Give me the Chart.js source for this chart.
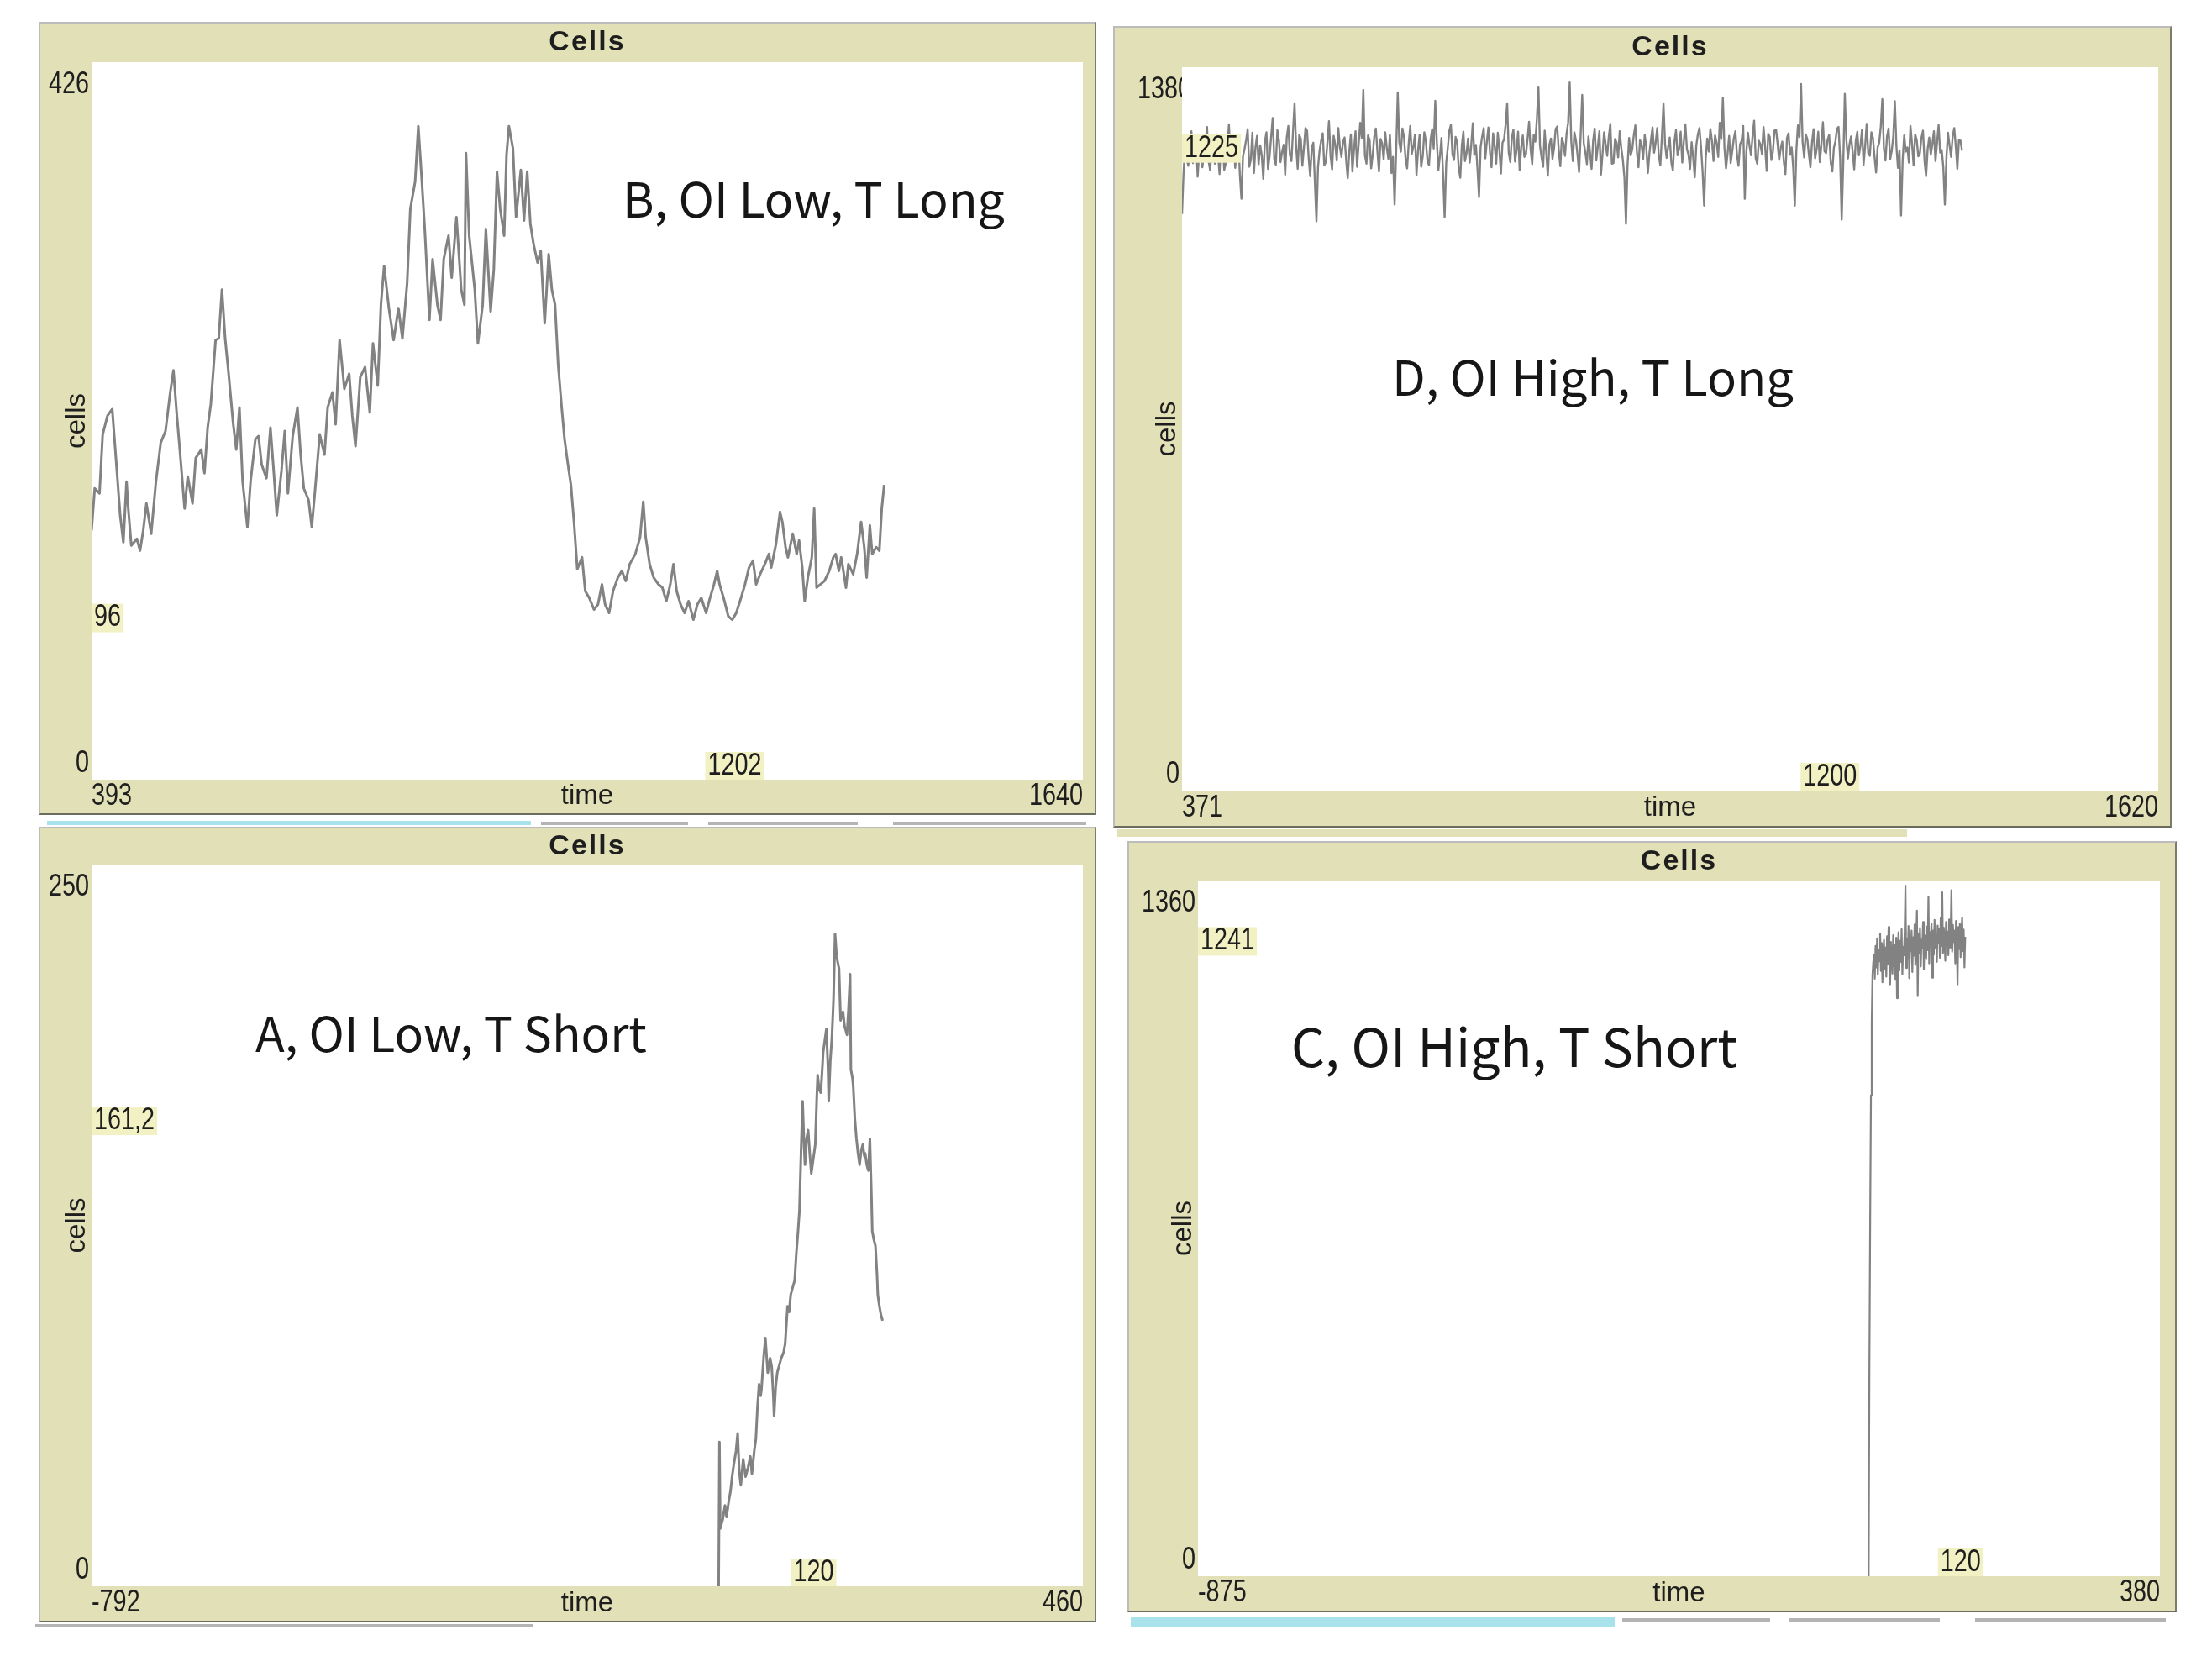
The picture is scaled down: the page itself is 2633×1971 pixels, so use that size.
<!DOCTYPE html>
<html>
<head>
<meta charset="utf-8">
<title>Cells</title>
<script src="https://cdn.jsdelivr.net/npm/chart.js@4.4.1/dist/chart.umd.min.js"></script>
<style>
  html, body { margin: 0; padding: 0; background: #fff; }
  body { width: 2633px; height: 1971px; position: relative; overflow: hidden; }
  .panel { position: absolute; border: 2px solid; border-color: #bcbcbc #7c7c6c #6c6c5e #bcbcbc; }
  .panel canvas { display: block; }
  .note { position: absolute; font-family: "Noto Sans CJK KR", "Noto Sans", sans-serif; font-weight: 400; font-size: 55px; color: #161616; white-space: nowrap; line-height: 1; }
  .strip { position: absolute; }
</style>
</head>
<body>
<script>
// ---- B: OI Low, T Long ----
const timeB = [393,397,403,407,413,419,423,429,433,437,439,443,450,454,458,462,468,474,480,486,
  492,496,500,504,510,514,520,524,531,535,539,543,549,553,557,561,565,571,575,579,
  583,589,593,599,603,607,613,618,622,626,632,636,640,646,652,656,660,666,670,674,
  680,686,690,696,700,705,711,717,721,725,731,737,743,747,753,757,761,767,773,779,
  784,790,794,800,804,808,812,818,822,828,832,836,842,846,852,858,862,864,868,875,
  879,885,889,895,899,903,907,912,915,918,923,927,933,937,941,945,949,954,958,963,
  968,972,976,980,984,988,992,996,1000,1004,
  1010,1014,1019,1025,1030,1035,1039,1044,1049,1055,1060,1065,1070,1077,1083,1087,1090,1095,1100,1106,
  1111,1116,1121,1125,1129,1134,1139,1144,1150,1155,1160,1166,1171,1176,1180,1183,1188,1194,1199,1204,
  1210,1215,1220,1225,1229,1234,1240,1245,1248,1254,1259,1262,1266,1269,1275,1280,1283,1287,1290,1294,
  1299,1302,1305,1310,1315,1321,1326,1329,1333,1336,1342,1345,1351,1356,1361,1365,1368,1372,1375,1380,
  1384,1387,1390];
const cellsB = [148,173,170,205,216,220,195,157,141,177,162,139,143,136,148,164,146,177,200,207,
  230,243,218,196,161,180,164,191,196,182,209,223,261,262,291,262,243,212,196,221,
  177,150,177,202,204,187,179,209,184,157,184,207,170,204,221,193,173,166,150,171,
  205,193,221,230,211,261,232,241,216,198,239,245,218,259,234,282,305,280,261,280,
  262,295,339,355,388,359,328,273,309,282,273,309,323,298,334,291,282,372,323,291,
  259,282,327,278,303,361,339,323,371,388,375,334,362,332,361,330,318,307,314,271,
  312,291,282,246,223,202,188,175,152,125,
  132,112,108,101,104,116,104,99,112,120,124,118,128,134,144,165,144,128,120,116,
  114,106,116,128,112,104,99,106,95,104,108,99,108,116,124,116,108,97,95,99,
  108,116,126,130,116,122,128,134,126,140,159,153,138,132,146,134,142,126,106,120,
  132,161,114,116,118,124,132,134,124,132,114,128,122,134,153,138,120,151,134,138,
  136,161,175];
const xTicksB = [393, 1640];
const yTicksB = [0, 426];
const readB = [96, 1202];          // [cells readout, time readout]

// ---- D: OI High, T Long (one value every 2 ticks from 371) ----
const startD = 371, stepD = 2;
const cellsD = [
  1100,1180,1236,1205,1192,1221,1258,1197,1207,1240,1171,1218,1244,1189,1213,1235,1266,1201,1183,1230,
  1229,1196,1252,1214,1176,1243,1238,1184,1197,1226,1271,1208,1215,1249,1188,1222,1247,1175,1129,1210,
  1224,1241,1262,1190,1203,1255,1178,1227,1249,1195,1231,1212,1167,1238,1256,1186,1210,1247,1283,1205,
  1194,1260,1240,1199,1218,1232,1175,1246,1268,1213,1201,1257,1311,1229,1186,1251,1243,1192,1227,1264,
  1259,1208,1172,1226,1236,1160,1086,1189,1221,1240,1254,1193,1199,1236,1277,1211,1185,1249,1233,1202,
  1264,1228,1209,1237,1246,1203,1168,1219,1252,1181,1222,1258,1190,1233,1274,1245,1337,1212,1196,1250,
  1241,1187,1213,1248,1263,1219,1181,1243,1235,1204,1256,1226,1205,1252,1178,1209,1118,1221,1332,1237,
  1219,1263,1247,1206,1187,1234,1268,1215,1228,1251,1174,1222,1251,1190,1210,1256,1239,1201,1193,1242,
  1262,1225,1316,1239,1184,1211,1245,1176,1094,1198,1226,1259,1270,1214,1203,1247,1237,1188,1169,1231,
  1257,1201,1216,1244,1198,1230,1273,1213,1232,1186,1132,1227,1248,1264,1206,1238,1265,1218,1189,1254,
  1230,1196,1255,1223,1177,1236,1242,1270,1311,1217,1199,1245,1261,1200,1221,1257,1183,1228,1250,1209,
  1214,1242,1276,1223,1195,1251,1238,1281,1343,1230,1208,1190,1259,1217,1173,1232,1244,1205,1226,1262,
  1267,1222,1191,1245,1234,1211,1253,1274,1351,1239,1201,1256,1240,1213,1180,1249,1327,1235,1218,1195,
  1248,1217,1186,1240,1263,1202,1229,1258,1175,1214,1256,1233,1211,1247,1272,1196,1197,1243,1236,1208,
  1258,1226,1204,1170,1081,1192,1245,1212,1223,1250,1269,1218,1189,1241,1231,1205,1251,1227,1178,1216,
  1242,1265,1217,1236,1264,1210,1193,1249,1311,1234,1207,1228,1246,1199,1183,1238,1260,1212,1225,1257,
  1198,1237,1271,1224,1213,1186,1237,1208,1170,1231,1252,1264,1229,1182,1116,1206,1244,1219,1262,1240,
  1201,1250,1235,1209,1274,1243,1321,1226,1187,1215,1249,1197,1220,1244,1258,1213,1192,1233,1240,1268,
  1129,1218,1255,1231,1212,1249,1278,1206,1196,1240,1233,1215,1266,1229,1182,1253,1247,1203,1219,1259,
  1261,1234,1203,1226,1238,1199,1176,1245,1254,1213,1227,1188,1116,1221,1269,1247,1348,1237,1208,1252,
  1243,1214,1189,1236,1262,1206,1224,1257,1199,1231,1275,1220,1216,1242,1251,1198,1181,1226,1239,1263,
  1266,1207,1089,1196,1329,1241,1206,1233,1248,1219,1185,1239,1257,1212,1230,1261,1194,1229,1272,1216,
  1211,1256,1245,1209,1179,1227,1236,1266,1319,1225,1202,1248,1263,1204,1220,1247,1315,1230,1188,1221,
  1097,1203,1250,1219,1227,1198,1268,1234,1193,1252,1241,1210,1215,1245,1259,1201,1172,1224,1246,1213,
  1233,1258,1201,1235,1270,1217,1222,1190,1118,1207,1255,1231,1209,1248,1264,1229,1186,1241,1240,1221];
const xTicksD = [371, 1620];
const yTicksD = [0, 1380];
const readD = [1225, 1200];

// ---- A: OI Low, T Short ----
const timeA = [0,1,2,5,8,10,13,15,17,19,22,24,26,28,30,31,34,37,40,42,
  45,47,49,51,53,54,57,59,61,62,65,67,69,70,72,74,77,79,82,84,
  87,89,91,94,96,98,100,102,104,106,108,109,111,113,115,117,120,122,124,125,
  127,129,131,132,134,136,138,139,141,143,145,147,149,152,154,157,159,162,164,166,
  167,169,170,172,174,176,178,180,182,184,185,187,189,191,193,194,196,198,200,201,
  203,205,207];
const cellsA = [0,50,20,23,28,24,30,33,38,42,47,53,40,35,41,44,38,41,45,39,
  47,51,62,70,66,68,80,86,78,74,79,76,66,59,69,74,77,79,81,84,
  97,95,101,104,106,115,122,130,150,168,152,146,155,158,150,143,149,153,170,177,
  172,171,180,185,189,193,180,168,182,190,203,226,218,214,196,199,194,191,200,212,
  179,176,173,162,155,150,146,151,153,149,150,146,144,155,135,123,120,118,108,101,
  97,94,92];
const xTicksA = [-792, 460];
const yTicksA = [0, 250];
const readA = [161.2, 120];

// ---- C: OI High, T Short (one value per tick from 0) ----
const startC = 0, stepC = 1;
const cellsC = [0,420,700,940,1080,1175,1200,
  1215,1168,1232,1190,1247,1176,1224,1202,1256,1183,
  1238,1161,1219,1244,1187,1229,1172,1251,1196,1269,
  1205,1157,1240,1211,1178,1253,1192,1235,1166,1248,
  1130,1226,1259,1184,1242,1201,1265,1177,1230,1214,
  1258,1350,1189,1245,1207,1271,1169,1236,1222,1262,
  1181,1249,1213,1274,1195,1240,1301,1134,1256,1218,
  1267,1192,1244,1228,1279,1186,1253,1235,1206,1270,
  1224,1328,1198,1259,1241,1276,1170,1262,1215,1283,
  1227,1254,1201,1272,1238,1265,1209,1287,1232,1337,
  1218,1268,1245,1203,1279,1236,1260,1214,1284,1229,
  1257,1341,1221,1273,1240,1262,1198,1281,1233,1157,
  1269,1226,1275,1210,1258,1288,1222,1264,1190,1250];
const xTicksC = [-875, 380];
const yTicksC = [0, 1360];
const readC = [1241, 120];

const notes = ['B, OI Low, T Long', 'D, OI High, T Long', 'A, OI Low, T Short', 'C, OI High, T Short'];

// ---- layout (screen pixels) ----
const BEIGE = '#e1e0b7';
const READ_BG = '#f2f1c4';
const LINE = '#828282';
const TXT = '#1e1e1e';
const NUM_FONT = '36px "Liberation Sans", Arial, sans-serif';
const NARROW = 0.8;
const WORD_FONT = '33px "Liberation Sans", Arial, sans-serif';

const panels = [
  { box: [48, 28, 1255, 940], pad: { left: 61, right: 14, top: 46, bottom: 40 }, topDx: -3, lw: 3,
    pts: timeB.map((t, i) => ({ x: t, y: cellsB[i] })), xTicks: xTicksB, yTicks: yTicksB, read: readB,
    note: notes[0], noteAt: [741, 236, 455] },
  { box: [1327, 33, 1256, 950], pad: { left: 80, right: 14, top: 47, bottom: 42 }, topDx: 11, lw: 2.4,
    pts: cellsD.map((v, i) => ({ x: startD + i * stepD, y: v })), xTicks: xTicksD, yTicks: yTicksD, read: readD,
    note: notes[1], noteAt: [1657, 448, 478] },
  { box: [48, 986, 1255, 943], pad: { left: 61, right: 14, top: 43, bottom: 41 }, topDx: -3, lw: 3,
    pts: timeA.map((t, i) => ({ x: t, y: cellsA[i] })), xTicks: xTicksA, yTicks: yTicksA, read: readA,
    note: notes[2], noteAt: [304, 1229, 466] },
  { box: [1344, 1003, 1245, 914], pad: { left: 82, right: 18, top: 45, bottom: 41 }, topDx: -3, lw: 2.2,
    pts: cellsC.map((v, i) => ({ x: startC + i * stepC, y: v })), xTicks: xTicksC, yTicks: yTicksC, read: readC,
    note: notes[3], noteAt: [1537, 1245, 531] }
];

const strips = [
  [56, 977, 576, 5, '#a8e2ea'], [644, 978, 175, 4, '#b4b4b4'], [843, 978, 178, 4, '#b4b4b4'], [1063, 978, 230, 4, '#b4b4b4'],
  [1330, 987, 940, 9, BEIGE],
  [1346, 1925, 576, 12, '#a8e2ea'], [1931, 1926, 176, 4, '#b4b4b4'], [2129, 1926, 180, 4, '#b4b4b4'], [2351, 1926, 227, 4, '#b4b4b4'],
  [42, 1933, 593, 3, '#b4b4b4']
];

const fmt = v => String(v).replace('.', ',');

// condensed digits, like the NetLogo plot font
function narrowText(ctx, text, x, y, align) {
  ctx.save();
  ctx.translate(x, y);
  ctx.scale(NARROW, 1);
  ctx.textAlign = align;
  ctx.fillText(text, 0, 0);
  ctx.restore();
}

// NetLogo-style frame: beige margins, title, min/max labels, white plot
const netlogoFrame = {
  id: 'netlogoFrame',
  beforeDraw(chart, args, opts) {
    const { ctx, chartArea: a, width, height } = chart;
    const sx = chart.scales.x, sy = chart.scales.y;
    ctx.save();
    ctx.fillStyle = BEIGE;
    ctx.fillRect(0, 0, width, height);
    ctx.fillStyle = TXT;

    ctx.font = 'bold 34px "Liberation Sans", Arial, sans-serif';
    ctx.letterSpacing = '2px';
    ctx.textAlign = 'center';
    ctx.textBaseline = 'middle';
    ctx.fillText('Cells', (a.left + a.right) / 2, a.top / 2);
    ctx.letterSpacing = '0px';

    ctx.font = NUM_FONT;
    narrowText(ctx, fmt(sy.max), a.left + opts.topDx, a.top + 27, 'right');
    narrowText(ctx, fmt(sy.min), a.left - 3, a.bottom - 19, 'right');

    const yb = (a.bottom + height) / 2;
    narrowText(ctx, fmt(sx.min), a.left, yb, 'left');
    narrowText(ctx, fmt(sx.max), a.right, yb, 'right');
    ctx.font = WORD_FONT;
    ctx.textAlign = 'center';
    ctx.fillText('time', (a.left + a.right) / 2, yb);

    ctx.translate(a.left - 17, (a.top + a.bottom) / 2);
    ctx.rotate(-Math.PI / 2);
    ctx.fillText('cells', 0, 0);
    ctx.restore();

    ctx.fillStyle = '#fff';
    ctx.fillRect(a.left, a.top, a.right - a.left, a.bottom - a.top);
  },
  afterDatasetsDraw(chart, args, opts) {
    const { ctx, chartArea: a } = chart;
    const [ry, rx] = opts.read;
    ctx.save();
    ctx.font = NUM_FONT;
    ctx.textBaseline = 'middle';

    const ty = fmt(ry), wy = ctx.measureText(ty).width * NARROW;
    const py = chart.scales.y.getPixelForValue(ry);
    ctx.fillStyle = READ_BG;
    ctx.fillRect(a.left, py - 17, wy + 6, 34);
    ctx.fillStyle = TXT;
    narrowText(ctx, ty, a.left + 3, py, 'left');

    const tx = fmt(rx), wx = ctx.measureText(tx).width * NARROW;
    const px = chart.scales.x.getPixelForValue(rx);
    ctx.fillStyle = READ_BG;
    ctx.fillRect(px - wx / 2 - 3, a.bottom - 33, wx + 6, 33);
    ctx.fillStyle = TXT;
    narrowText(ctx, tx, px, a.bottom - 16, 'center');
    ctx.restore();
  }
};

function drawPanel(p) {
  const wrap = document.createElement('div');
  wrap.className = 'panel';
  wrap.style.left = (p.box[0] - 2) + 'px';
  wrap.style.top = (p.box[1] - 2) + 'px';
  wrap.style.width = p.box[2] + 'px';
  wrap.style.height = p.box[3] + 'px';
  const canvas = document.createElement('canvas');
  canvas.width = p.box[2];
  canvas.height = p.box[3];
  wrap.appendChild(canvas);
  document.body.appendChild(wrap);

  new Chart(canvas, {
    type: 'line',
    data: {
      datasets: [{
        data: p.pts,
        borderColor: LINE,
        borderWidth: p.lw,
        borderJoinStyle: 'round',
        pointRadius: 0,
        tension: 0,
        fill: false
      }]
    },
    options: {
      responsive: false,
      animation: false,
      devicePixelRatio: 1,
      events: [],
      layout: { padding: p.pad },
      plugins: {
        legend: { display: false },
        tooltip: { enabled: false },
        netlogoFrame: { topDx: p.topDx, read: p.read }
      },
      scales: {
        x: { type: 'linear', display: false, min: p.xTicks[0], max: p.xTicks[1] },
        y: { type: 'linear', display: false, min: p.yTicks[0], max: p.yTicks[1] }
      }
    },
    plugins: [netlogoFrame]
  });
}

function placeNote(p) {
  const el = document.createElement('div');
  el.className = 'note';
  el.textContent = p.note;
  document.body.appendChild(el);
  const w = el.getBoundingClientRect().width;
  const size = 55 * p.noteAt[2] / w;
  el.style.fontSize = size + 'px';
  el.style.left = p.noteAt[0] + 'px';
  el.style.top = (p.noteAt[1] - size * 0.52) + 'px';
}

strips.forEach(s => {
  const d = document.createElement('div');
  d.className = 'strip';
  d.style.left = s[0] + 'px';
  d.style.top = s[1] + 'px';
  d.style.width = s[2] + 'px';
  d.style.height = s[3] + 'px';
  d.style.background = s[4];
  document.body.appendChild(d);
});

panels.forEach(drawPanel);
panels.forEach(placeNote);
</script>
</body>
</html>
